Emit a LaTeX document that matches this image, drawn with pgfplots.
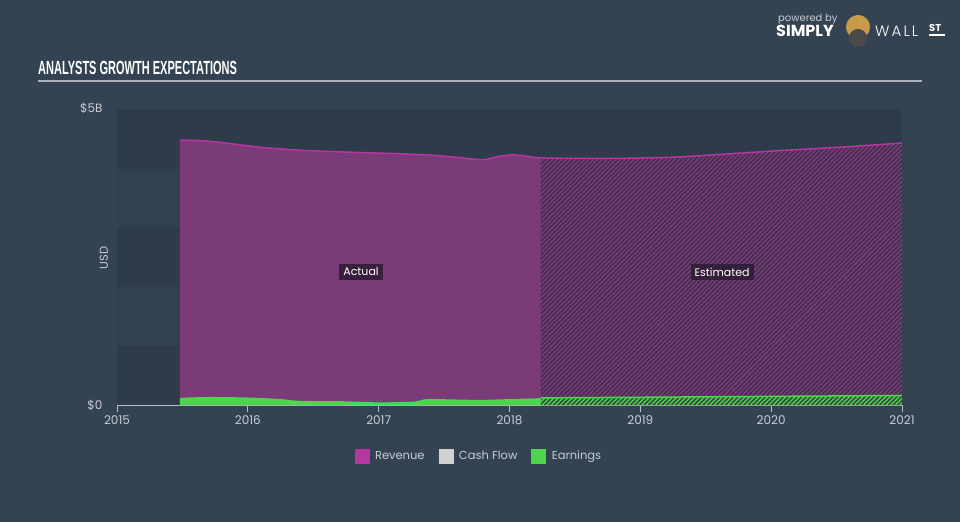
\documentclass[border=0pt]{standalone}
\usepackage{fontspec}
\setmainfont{Poppins}
\newfontfamily\titlefont[FakeStretch=0.58]{Liberation Sans}
\newfontfamily\wallfont[LetterSpace=14]{Poppins Light}
\usepackage{pgfplots}
\pgfplotsset{compat=1.18}
\usetikzlibrary{patterns.meta}
\definecolor{bgc}{HTML}{344352}
\definecolor{banddark}{HTML}{2E3C4A}
\definecolor{bandlight}{HTML}{324150}
\definecolor{revc}{HTML}{7B3A78}
\definecolor{revline}{HTML}{B5379F}
\definecolor{revhatchbg}{HTML}{3C2F4B}
\definecolor{earnc}{HTML}{4CD64C}
\definecolor{earnhatchbg}{HTML}{2F4A3A}
\definecolor{cashc}{HTML}{D0D0D0}
\definecolor{axisc}{HTML}{B8BEC6}
\definecolor{tickc}{HTML}{C8CDD3}
\definecolor{linec}{HTML}{A8AFB8}
\definecolor{labelbg}{HTML}{2D1C33}
\definecolor{bullc}{HTML}{C89A4A}
\definecolor{suitc}{HTML}{4A4A4A}
\begin{document}
\begin{tikzpicture}
\fill[bgc] (0,0) rectangle (960pt,522pt);
\useasboundingbox (0,0) rectangle (960pt,522pt);
% plot background bands
\fill[banddark] (117pt,117pt) rectangle (902pt,176pt);
\fill[bandlight] (117pt,176pt) rectangle (902pt,235pt);
\fill[banddark] (117pt,235pt) rectangle (902pt,294pt);
\fill[bandlight] (117pt,294pt) rectangle (902pt,353pt);
\fill[banddark] (117pt,353pt) rectangle (902pt,413pt);
% title
\node[anchor=base west, text=white, inner sep=0pt] at (38pt,447pt) {\titlefont\bfseries\fontsize{19}{19}\selectfont ANALYSTS GROWTH EXPECTATIONS};
\draw[linec, line width=1.5pt] (38pt,441pt) -- (922pt,441pt);
% logo
\node[anchor=base west, text=tickc, inner sep=0pt] at (778pt,500pt) {\fontsize{10}{10}\selectfont powered by};
\node[anchor=base west, text=white, inner sep=0pt] at (776pt,485pt) {\fontsize{16}{16}\selectfont\bfseries SIMPLY};
\fill[bullc] (858pt,495pt) circle (12pt);
\fill[suitc] (858pt,484pt) circle (9pt);
\node[anchor=base west, text=white, inner sep=0pt] at (875pt,485pt) {\wallfont\fontsize{15}{15}\selectfont WALL};
\node[anchor=base west, text=white, inner sep=0pt] at (929pt,490pt) {\fontsize{10}{10}\selectfont\bfseries ST};
\draw[white, line width=1.2pt] (929pt,487pt) -- (945pt,487pt);
\begin{axis}[
  at={(117pt,117pt)}, anchor=south west,
  scale only axis, width=785pt, height=297pt,
  xmin=2015, xmax=2021, ymin=0, ymax=5,
  axis x line*=bottom, axis y line*=left,
  y axis line style={draw=none},
  x axis line style={draw=axisc, line width=1pt},
  xtick={2015,2016,2017,2018,2019,2020,2021},
  xticklabels={2015,2016,2017,2018,2019,2020,2021},
  ytick={0,5}, yticklabels={\$0,\$5B},
  /pgf/number format/assume math mode=true,
  tick label style={text=tickc, font=\fontsize{12}{12}\selectfont},
  yticklabel style={xshift=-4pt},
  xtick style={draw=axisc, line width=1pt},
  ytick style={draw=none},
  major tick length=7pt, tick align=outside,
  ylabel={USD},
  ylabel style={at={(axis description cs:-0.0166,0.495)}, anchor=center, text=tickc, font=\fontsize{11.5}{11.5}\selectfont},
  legend style={at={(axis description cs:0.461,-0.172)}, anchor=center, legend columns=3, draw=none, fill=none,
    text=tickc, font=\fontsize{11.5}{11.5}\selectfont, inner sep=0pt,
    /tikz/every even column/.append style={column sep=12pt}},
  legend image code/.code={\fill[#1] (0pt,-7pt) rectangle (14pt,7pt); \path (18pt,0pt);},
]
% revenue actual
\addplot[fill=revc, draw=none, smooth, forget plot] coordinates {
(2015.48,4.46) (2015.71,4.44) (2016.09,4.34) (2016.40,4.29) (2016.86,4.25) (2017.16,4.23) (2017.37,4.21) (2017.55,4.18) (2017.72,4.14) (2017.81,4.13) (2017.93,4.19) (2018.04,4.21) (2018.16,4.18) (2018.24,4.16)
} \closedcycle;
% revenue estimated
\addplot[preaction={fill=revhatchbg}, pattern={Lines[angle=45,distance=3.2pt,line width=1.6pt]}, pattern color=revc, draw=none, smooth, forget plot] coordinates {
(2018.24,4.16) (2018.69,4.15) (2019.23,4.17) (2019.69,4.23) (2020.12,4.29) (2020.60,4.35) (2021.0,4.41)
} \closedcycle;
% revenue line
\addplot[draw=revline, line width=1.5pt, smooth, forget plot] coordinates {
(2015.48,4.46) (2015.71,4.44) (2016.09,4.34) (2016.40,4.29) (2016.86,4.25) (2017.16,4.23) (2017.37,4.21) (2017.55,4.18) (2017.72,4.14) (2017.81,4.13) (2017.93,4.19) (2018.04,4.21) (2018.16,4.18) (2018.24,4.16)
(2018.69,4.15) (2019.23,4.17) (2019.69,4.23) (2020.12,4.29) (2020.60,4.35) (2021.0,4.41)
};
% earnings actual
\addplot[fill=earnc, draw=none, smooth, forget plot] coordinates {
(2015.48,0.12) (2015.71,0.135) (2016.02,0.125) (2016.25,0.10) (2016.40,0.07) (2016.70,0.065) (2016.99,0.045) (2017.16,0.05) (2017.28,0.06) (2017.37,0.10) (2017.55,0.095) (2017.77,0.085) (2017.93,0.095) (2018.24,0.115)
} \closedcycle;
% earnings estimated
\addplot[preaction={fill=earnhatchbg}, pattern={Lines[angle=45,distance=3.2pt,line width=1.4pt]}, pattern color=earnc, draw=none, forget plot] coordinates {
(2018.24,0.12) (2019.0,0.13) (2020.0,0.145) (2021.0,0.16)
} \closedcycle;
\addplot[draw=earnc, line width=1.5pt, forget plot] coordinates {
(2018.24,0.12) (2019.0,0.13) (2020.0,0.145) (2021.0,0.16)
};
\node[fill=labelbg, fill opacity=0.85, text opacity=1, text=white, font=\fontsize{11}{11}\selectfont, inner sep=4pt] at (axis cs:2016.865,2.24) {Actual};
\node[fill=labelbg, fill opacity=0.85, text opacity=1, text=white, font=\fontsize{11}{11}\selectfont, inner sep=4pt] at (axis cs:2019.625,2.24) {Estimated};
\addlegendimage{revline}\addlegendentry{Revenue}
\addlegendimage{cashc}\addlegendentry{Cash Flow}
\addlegendimage{earnc}\addlegendentry{Earnings}
\end{axis}
\end{tikzpicture}
\end{document}
